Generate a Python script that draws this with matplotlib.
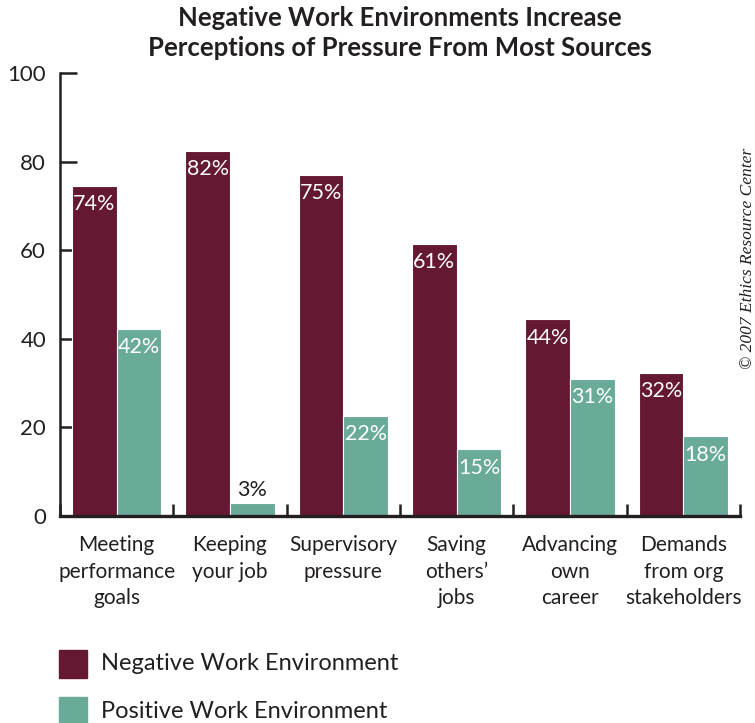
import matplotlib
matplotlib.use("Agg")
import matplotlib.pyplot as plt
import numpy as np
from matplotlib.patches import Rectangle

# data
categories = ["Meeting\nperformance\ngoals", "Keeping\nyour job", "Supervisory\npressure",
              "Saving\nothers'\njobs", "Advancing\nown\ncareer", "Demands\nfrom org\nstakeholders"]
# printed percentages
negative = [74, 82, 75, 61, 44, 32]
positive = [42, 3, 22, 15, 31, 18]
# bar heights as drawn in the picture (the 75% bar is drawn a bit taller)
negative_drawn = [74.5, 82.5, 77, 61.4, 44.4, 32.3]
positive_drawn = [42.2, 3, 22.6, 15.1, 31, 18]
series_names = ["Negative Work Environment", "Positive Work Environment"]
yticks = [0, 20, 40, 60, 80, 100]

maroon = "#641832"
teal = "#6aaa99"
ink = "#231f20"

plt.rcParams['font.family'] = ['Lato', 'DejaVu Sans']

fig = plt.figure(figsize=(7.55, 7.23), dpi=100)
ax = fig.add_axes([60 / 755, 1 - 516 / 723, 680 / 755, 443 / 723])

x = np.arange(len(categories))
w = 0.395
ax.bar(x - w / 2, negative_drawn, w, color=maroon, edgecolor="white", linewidth=0.8, zorder=2)
ax.bar(x + w / 2, positive_drawn, w, color=teal, edgecolor="white", linewidth=0.8, zorder=2)

# value labels
for xi, h, v in zip(x - w / 2, negative_drawn, negative):
    ax.text(xi, h - 1.9, f"{v}%", ha="center", va="top", color="white", fontsize=15.5, zorder=3)
for xi, h, v in zip(x + w / 2, positive_drawn, positive):
    if v < 8:
        ax.text(xi, h + 0.6, f"{v}%", ha="center", va="bottom", color=ink, fontsize=15.5, zorder=3)
    else:
        ax.text(xi, h - 1.9, f"{v}%", ha="center", va="top", color="white", fontsize=15.5, zorder=3)

ax.set_xlim(-0.5, len(categories) - 0.5)
ax.set_ylim(0, 100)
ax.set_yticks(yticks)
ax.set_yticklabels([str(t) for t in yticks], fontsize=16, color=ink)
ax.set_xticks(np.arange(len(categories) + 1) - 0.5)
ax.set_xticklabels([])
ax.tick_params(axis="y", direction="in", length=12, width=1.8, color=ink, pad=10)
ax.tick_params(axis="x", direction="in", length=9, width=1.8, color=ink)

for s in ["top", "right"]:
    ax.spines[s].set_visible(False)
ax.spines["left"].set_linewidth(1.8)
ax.spines["bottom"].set_linewidth(2.4)
ax.spines["left"].set_color(ink)
ax.spines["bottom"].set_color(ink)

# category labels
for xi, lab in zip(x, categories):
    ax.text(xi, -4.3, lab.replace("'", "\u2019"), ha="center", va="top", fontsize=15,
            color=ink, linespacing=1.42)

fig.text(400 / 755, 1 - 33 / 723,
         "Negative Work Environments Increase\nPerceptions of Pressure From Most Sources",
         ha="center", va="center", fontsize=18.5, fontweight="bold", color=ink, linespacing=1.25)

# legend
for i, (name, col) in enumerate(zip(series_names, [maroon, teal])):
    yc = 664 + i * 47
    fig.patches.append(Rectangle((59 / 755, 1 - (yc + 14) / 723), 28 / 755, 28 / 723,
                                 transform=fig.transFigure, color=col))
    fig.text(101 / 755, 1 - yc / 723, name, ha="left", va="center", fontsize=17, color=ink)

fig.text(748 / 755, 1 - 258 / 723, "\u00a9 2007 Ethics Resource Center", rotation=90,
         ha="center", va="center", fontsize=12.5, style="italic", color=ink,
         family=["Liberation Serif", "DejaVu Serif"])

fig.savefig("out.png", dpi=100)
